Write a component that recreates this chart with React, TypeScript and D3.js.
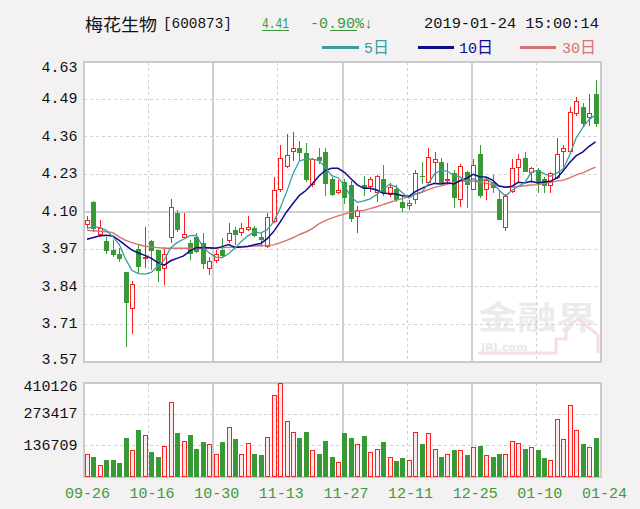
import React from "react";
import * as d3 from "d3";

// ---------- data ----------
const categories = [
  "09-26","09-27","09-28","10-08","10-09","10-10","10-11","10-12","10-15","10-16",
  "10-17","10-18","10-19","10-22","10-23","10-24","10-25","10-26","10-29","10-30",
  "10-31","11-01","11-02","11-05","11-06","11-07","11-08","11-09","11-12","11-13",
  "11-14","11-15","11-16","11-19","11-20","11-21","11-22","11-23","11-26","11-27",
  "11-28","11-29","11-30","12-03","12-04","12-05","12-06","12-07","12-10","12-11",
  "12-12","12-13","12-14","12-17","12-18","12-19","12-20","12-21","12-24","12-25",
  "12-26","12-27","12-28","01-02","01-03","01-04","01-07","01-08","01-09","01-10",
  "01-11","01-14","01-15","01-16","01-17","01-18","01-21","01-22","01-23","01-24",
];
const dateTicks = ["09-26","10-16","10-30","11-13","11-27","12-11","12-25","01-10","01-24"];
const priceTicks = ["4.63","4.49","4.36","4.23","4.10","3.97","3.84","3.71","3.57"];
const volTicks = [410126, 273417, 136709];

const opens = [
  4.055,4.135,4.02,3.998,3.965,3.95,3.889,3.757,3.97,3.937,
  3.998,3.965,3.898,4.007,4.098,4.009,3.99,4.013,3.99,3.9,
  3.928,3.966,3.996,4.036,4.025,4.035,4.045,4.013,3.975,4.065,
  4.178,4.26,4.312,4.325,4.307,4.195,4.295,4.313,4.215,4.166,
  4.205,4.195,4.083,4.195,4.19,4.166,4.217,4.16,4.183,4.136,
  4.122,4.142,4.228,4.201,4.274,4.278,4.212,4.239,4.142,4.242,
  4.178,4.304,4.178,4.207,4.146,4.042,4.17,4.254,4.292,4.237,
  4.248,4.217,4.193,4.219,4.313,4.313,4.445,4.472,4.433,4.516,
];
const highs = [
  4.085,4.138,4.072,4.01,4.0,3.972,3.889,3.857,3.985,4.048,
  4.0,3.966,3.975,4.145,4.107,4.095,4.0,4.025,4.025,3.942,
  3.966,4.009,4.06,4.048,4.06,4.085,4.05,4.03,4.095,4.225,
  4.337,4.375,4.384,4.35,4.345,4.29,4.325,4.325,4.225,4.213,
  4.215,4.21,4.12,4.227,4.225,4.23,4.266,4.203,4.195,4.16,
  4.142,4.248,4.278,4.325,4.313,4.29,4.272,4.248,4.27,4.246,
  4.287,4.337,4.225,4.23,4.178,4.162,4.287,4.304,4.313,4.26,
  4.255,4.225,4.24,4.363,4.337,4.472,4.507,4.484,4.516,4.566,
];
const lows = [
  4.04,4.03,4.013,3.952,3.942,3.925,3.624,3.668,3.885,3.901,
  3.895,3.853,3.842,3.99,4.03,4.007,3.93,3.955,3.9,3.877,
  3.919,3.936,3.99,3.985,4.015,4.033,4.01,3.977,3.972,4.06,
  4.172,4.254,4.28,4.28,4.207,4.19,4.27,4.155,4.155,4.165,
  4.13,4.066,4.025,4.155,4.17,4.136,4.155,4.154,4.136,4.1,
  4.107,4.13,4.2,4.198,4.207,4.198,4.201,4.113,4.119,4.113,
  4.176,4.15,4.142,4.166,4.07,4.033,4.168,4.201,4.24,4.201,
  4.166,4.166,4.166,4.215,4.26,4.31,4.44,4.405,4.404,4.4,
];
const closes = [
  4.07,4.04,4.045,3.962,3.948,3.935,3.777,3.845,3.905,3.942,
  3.963,3.89,3.953,4.118,4.035,4.023,3.952,3.958,3.915,3.927,
  3.952,3.943,4.025,4.02,4.044,4.047,4.015,4.0,4.083,4.178,
  4.29,4.3,4.325,4.308,4.213,4.288,4.28,4.2,4.16,4.178,
  4.15,4.075,4.107,4.185,4.216,4.227,4.167,4.19,4.143,4.113,
  4.133,4.237,4.222,4.293,4.286,4.202,4.216,4.148,4.263,4.196,
  4.266,4.155,4.213,4.184,4.072,4.158,4.254,4.287,4.243,4.254,
  4.202,4.193,4.237,4.304,4.325,4.454,4.492,4.41,4.45,4.41,
];
const volumes = [
  102500,87900,54200,76200,76200,61500,169900,115700,205100,183100,
  109900,87900,134800,325200,190400,156700,183100,121600,150900,142100,
  102500,150900,216800,164000,102500,149400,102500,95200,175800,358900,
  410126,243100,196300,169900,196300,115700,102500,156700,87900,67400,
  190400,169900,142100,177200,108400,121600,150900,87900,68800,82000,
  74700,196300,143500,190400,121600,87900,102500,115700,115700,95200,
  128900,136200,95200,87900,102500,102500,156700,149400,121600,128900,
  115700,82000,74700,251900,164000,312000,203600,143500,128900,169900,
];
// moving-average values read off the picture where the window has no full history
const ma5Head = [4.042,4.048,4.045,4.035];
const ma10Head = [4.004,4.01,4.016,4.018,4.015,4.0,3.982,3.965,3.955];
const ma30Head = [
  4.035,4.034,4.032,4.03,4.027,4.012,4.0,3.992,3.985,3.979,
  3.976,3.974,3.972,3.972,3.972,3.972,3.972,3.972,3.972,3.972,
  3.973,3.974,3.975,3.976,3.978,3.979,3.98,3.981,3.982,
];

// ---------- style ----------
const W = 640, H = 509;
const L = 84, R = 601, T = 62, B = 362, VT = 383, VB = 477;
const RED = "#ff1e1e", GREEN = "#379a37";
const C5 = "#3a9d9d", C10 = "#0c0c8c", C30 = "#d67272";
const GRID = "#d0d0d0";
const MONO = "'Liberation Mono', 'DejaVu Sans Mono', monospace";
const CJK = "'Noto Sans CJK SC', 'Noto Sans', sans-serif";

export default function App() {
  const n = categories.length;
  const x = d3.scaleLinear().domain([0, n - 1]).range([87, 595.5]);
  const y = d3.scaleLinear().domain([3.57, 4.63]).range([B, T]);
  const yv = d3.scaleLinear().domain([0, 410126]).range([VB, VT]);
  const gx = d3.scaleLinear().domain([0, 8]).range([L, R]);

  const ma = (len: number, head: number[]) =>
    closes.map((_, i) => (i < len - 1 ? head[i] : (d3.mean(closes.slice(i - len + 1, i + 1)) as number)));
  const line = d3.line<number>().x((_, i) => x(i)).y((d) => y(d));

  const priceVals = priceTicks.map((_, j) => 4.63 - (j * (4.63 - 3.57)) / 8);

  const vGrid = d3.range(1, 8).map((k) => {
    const solid = k % 2 === 0;
    const px = solid ? Math.round(gx(k)) : Math.floor(gx(k)) + 0.5;
    return { k, px, solid };
  });

  const candles = closes.map((c, i) => {
    const o = opens[i], h = highs[i], l = lows[i];
    const cx = Math.round(x(i));
    const up = c >= o;
    const yH = Math.round(y(h)), yL = Math.round(y(l));
    if (up) {
      const top = Math.round(y(c)) + 0.5;
      const bot = Math.max(top + 1, Math.round(y(o)) - 0.5);
      return (
        <g key={i}>
          <line x1={cx + 0.5} x2={cx + 0.5} y1={yH} y2={top} stroke={RED} strokeWidth={1} />
          <line x1={cx + 0.5} x2={cx + 0.5} y1={bot} y2={yL} stroke={RED} strokeWidth={1} />
          <rect x={cx - 1.5} y={top} width={4} height={bot - top} fill="#fff" stroke={RED} strokeWidth={1} />
        </g>
      );
    }
    const top = Math.round(y(o));
    const hgt = Math.max(1, Math.round(y(c)) - top);
    return (
      <g key={i}>
        <line x1={cx + 0.5} x2={cx + 0.5} y1={yH} y2={yL} stroke={GREEN} strokeWidth={1} />
        <rect x={cx - 2} y={top} width={5} height={hgt} fill={GREEN} />
      </g>
    );
  });

  const volBars = volumes.map((v, i) => {
    const cx = Math.round(x(i));
    const up = closes[i] >= opens[i];
    const top = Math.round(yv(v));
    if (up) {
      return (
        <rect key={i} x={cx - 1.5} y={top + 0.5} width={4} height={VB - top - 1} fill="#ffeaea" stroke={RED} strokeWidth={1} />
      );
    }
    return <rect key={i} x={cx - 2} y={top} width={5} height={VB - top} fill={GREEN} />;
  });

  return (
    <svg width={W} height={H} style={{ position: "absolute", left: 0, top: 0 }} xmlns="http://www.w3.org/2000/svg">
      <rect x={0} y={0} width={W} height={H} fill="#f3f1f1" />

      {/* header */}
      <text x={85} y={31} fontFamily={CJK} fontSize={17.5} fill="#111" textLength={72} lengthAdjust="spacingAndGlyphs">梅花生物</text>
      <text x={163} y={28} fontFamily={MONO} fontSize={15} fill="#111" textLength={69} lengthAdjust="spacingAndGlyphs">[600873]</text>
      <text x={262} y={28} fontFamily={MONO} fontSize={15} fill={GREEN} textLength={27} lengthAdjust="spacingAndGlyphs">4.41</text>
      <line x1={262} x2={289} y1={30.5} y2={30.5} stroke={GREEN} strokeWidth={1} />
      <text x={310} y={28} fontFamily={MONO} fontSize={15} fill={GREEN} textLength={63} lengthAdjust="spacingAndGlyphs">-0.90%↓</text>
      <line x1={330} x2={357} y1={30.5} y2={30.5} stroke={GREEN} strokeWidth={1} />
      <text x={424} y={28} fontFamily={MONO} fontSize={15} fill="#111" textLength={175} lengthAdjust="spacingAndGlyphs">2019-01-24 15:00:14</text>

      {/* legend */}
      <line x1={322} x2={359} y1={47.5} y2={47.5} stroke={C5} strokeWidth={3} />
      <text x={364} y={53} fontFamily={MONO} fontSize={15} fill={C5}>5<tspan fontFamily={CJK} fontSize={16}>日</tspan></text>
      <line x1={418} x2={454} y1={47.5} y2={47.5} stroke={C10} strokeWidth={3} />
      <text x={459} y={53} fontFamily={MONO} fontSize={15} fill={C10}>10<tspan fontFamily={CJK} fontSize={16}>日</tspan></text>
      <line x1={520} x2={556} y1={47.5} y2={47.5} stroke={C30} strokeWidth={3} />
      <text x={562} y={53} fontFamily={MONO} fontSize={15} fill={C30}>30<tspan fontFamily={CJK} fontSize={16}>日</tspan></text>

      {/* price panel */}
      <rect x={L} y={T} width={R - L} height={B - T} fill="#fff" />
      {/* watermark */}
      <g opacity={0.9}>
        <text x={478} y={329} fontFamily={CJK} fontWeight={700} fontSize={32} fill="#ebe9e9" textLength={118} lengthAdjust="spacingAndGlyphs">金融界</text>
        <text x={481} y={351} fontFamily="'DejaVu Sans', sans-serif" fontWeight={700} fontSize={11} fill="#e8e5e5">JRJ.com</text>
        <path d="M478 353 L556 353 L556 339 L566 339 L566 328 L578 319 L598 335 L598 353" fill="none" stroke="#f6dcdc" strokeWidth={3} />
      </g>
      {priceVals.slice(1, 8).map((v, j) => {
        const py = Math.floor(y(v)) + 0.5;
        const solid = j + 1 === 4;
        return (
          <line key={j} x1={L} x2={R} y1={solid ? Math.round(y(v)) : py} y2={solid ? Math.round(y(v)) : py}
            stroke={GRID} strokeWidth={solid ? 2 : 1} strokeDasharray={solid ? undefined : "3,3"} />
        );
      })}
      {vGrid.map((g) => (
        <line key={g.k} x1={g.px} x2={g.px} y1={T} y2={B} stroke={GRID}
          strokeWidth={g.solid ? 2 : 1} strokeDasharray={g.solid ? undefined : "3,3"} />
      ))}
      <rect x={L} y={T} width={R - L} height={B - T} fill="none" stroke="#cbcbcb" strokeWidth={2} />
      {candles}
      <path d={line(ma(30, ma30Head)) || ""} fill="none" stroke={C30} strokeWidth={1.4} />
      <path d={line(ma(10, ma10Head)) || ""} fill="none" stroke={C10} strokeWidth={1.5} />
      <path d={line(ma(5, ma5Head)) || ""} fill="none" stroke={C5} strokeWidth={1.3} />

      {priceTicks.map((t, j) => {
        let by = y(priceVals[j]) + 3.5;
        if (j === 0) by = T + 10;
        if (j === priceTicks.length - 1) by = B + 1.5;
        return (
          <text key={t} x={77.5} y={by} textAnchor="end" fontFamily={MONO} fontSize={15} fill="#111">{t}</text>
        );
      })}

      {/* volume panel */}
      <rect x={L} y={VT} width={R - L} height={VB - VT} fill="#fff" />
      {volTicks.slice(1).map((v) => (
        <line key={v} x1={L} x2={R} y1={Math.floor(yv(v)) + 0.5} y2={Math.floor(yv(v)) + 0.5}
          stroke={GRID} strokeWidth={1} strokeDasharray="3,3" />
      ))}
      {vGrid.map((g) => (
        <line key={g.k} x1={g.px} x2={g.px} y1={VT} y2={VB} stroke={GRID}
          strokeWidth={g.solid ? 2 : 1} strokeDasharray={g.solid ? undefined : "3,3"} />
      ))}
      <rect x={L} y={VT} width={R - L} height={VB - VT} fill="none" stroke="#cbcbcb" strokeWidth={2} />
      {volBars}
      {volTicks.map((v, j) => (
        <text key={v} x={77.5} y={j === 0 ? VT + 7.5 : yv(v) + 4} textAnchor="end" fontFamily={MONO} fontSize={15} fill="#111">{String(v)}</text>
      ))}

      {/* x axis labels */}
      {dateTicks.map((d, k) => (
        <text key={d} x={gx(k) + 3.5} y={497.5} textAnchor="middle" fontFamily={MONO} fontSize={15} fill="#3c9a3c">{d}</text>
      ))}
    </svg>
  );
}
